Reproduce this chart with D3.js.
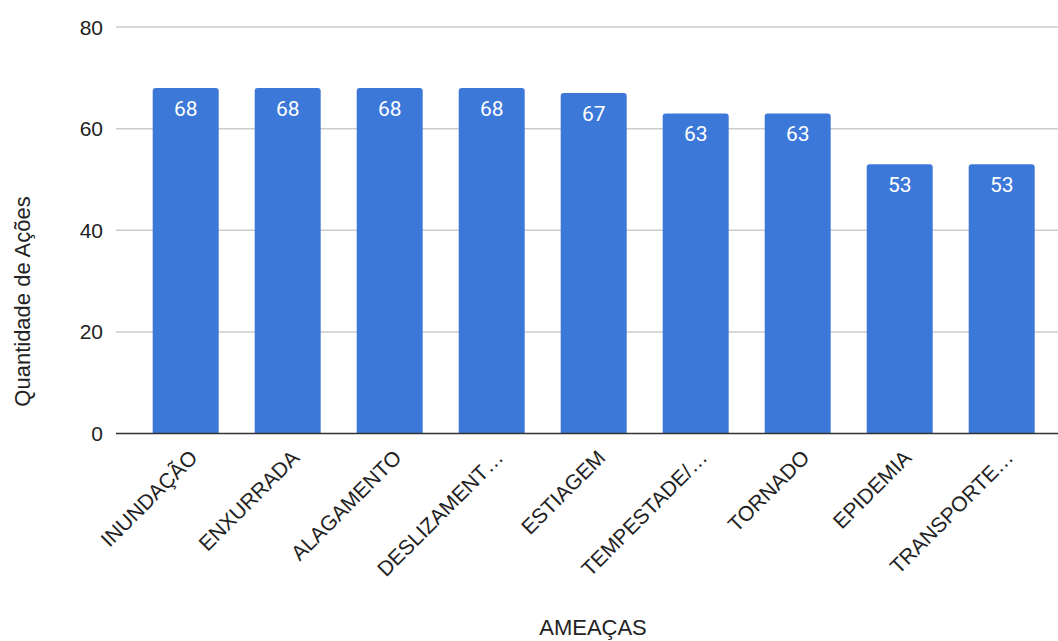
<!DOCTYPE html>
<html>
<head>
<meta charset="utf-8">
<script src="https://cdn.jsdelivr.net/npm/d3@7"></script>
<style>
  html, body { margin: 0; padding: 0; background: #fff; }
  svg { display: block; }
</style>
</head>
<body>
<svg id="chart" width="1058" height="641"></svg>
<script>
// Threat categories and number of actions for each
const categories = ["INUNDAÇÃO", "ENXURRADA", "ALAGAMENTO", "DESLIZAMENT…", "ESTIAGEM", "TEMPESTADE/…", "TORNADO", "EPIDEMIA", "TRANSPORTE…"];
const values = [68, 68, 68, 68, 67, 63, 63, 53, 53];
const yTicks = [0, 20, 40, 60, 80];
const xTitle = "AMEAÇAS";
const yTitle = "Quantidade de Ações";

const svg = d3.select("#chart");
const plotLeft = 116, plotRight = 1058;
const axisFont = "'Liberation Sans', Arial, sans-serif";

const x = d3.scaleBand()
  .domain(categories)
  .range([134.7, 1052.7])
  .paddingInner(0.353)
  .paddingOuter(0.1765);

const y = d3.scaleLinear()
  .domain([0, 80])
  .range([433.5, 27]);

// Horizontal gridlines
svg.append("g")
  .selectAll("line")
  .data(yTicks.filter(d => d !== 0))
  .join("line")
  .attr("x1", plotLeft)
  .attr("x2", plotRight)
  .attr("y1", d => y(d))
  .attr("y2", d => y(d))
  .attr("stroke", "#cccccc")
  .attr("stroke-width", 1.5);

// Y tick labels
svg.append("g")
  .selectAll("text")
  .data(yTicks)
  .join("text")
  .attr("x", 103)
  .attr("y", d => y(d))
  .attr("dy", "0.36em")
  .attr("text-anchor", "end")
  .attr("font-family", axisFont)
  .attr("font-size", 21)
  .attr("fill", "#222")
  .text(d => d);

// Bars with slightly rounded top corners
const r = 3;
function barPath(d, i) {
  const x0 = x(categories[i]);
  const x1 = x0 + x.bandwidth();
  const yt = y(d);
  const yb = y(0);
  return `M${x0},${yb} L${x0},${yt + r} Q${x0},${yt} ${x0 + r},${yt} L${x1 - r},${yt} Q${x1},${yt} ${x1},${yt + r} L${x1},${yb} Z`;
}

svg.append("g")
  .selectAll("path")
  .data(values)
  .join("path")
  .attr("d", (d, i) => barPath(d, i))
  .attr("fill", "#3c78d8");

// Value labels inside the bars
svg.append("g")
  .selectAll("text")
  .data(values)
  .join("text")
  .attr("x", (d, i) => x(categories[i]) + x.bandwidth() / 2)
  .attr("y", d => y(d) + 28)
  .attr("text-anchor", "middle")
  .attr("font-family", "Roboto, 'Liberation Sans', Arial, sans-serif")
  .attr("font-size", 21)
  .attr("fill", "#ffffff")
  .text(d => d);

// Baseline (zero axis)
svg.append("line")
  .attr("x1", plotLeft)
  .attr("x2", plotRight)
  .attr("y1", y(0))
  .attr("y2", y(0))
  .attr("stroke", "#333333")
  .attr("stroke-width", 1.5);

// Rotated category labels
svg.append("g")
  .selectAll("text")
  .data(categories)
  .join("text")
  .attr("transform", d => `translate(${x(d) + x.bandwidth() / 2 + 13},${459}) rotate(-45)`)
  .attr("text-anchor", "end")
  .attr("font-family", axisFont)
  .attr("font-size", 21)
  .attr("fill", "#222")
  .text(d => d);

// Axis titles
svg.append("text")
  .attr("x", 593)
  .attr("y", 635)
  .attr("text-anchor", "middle")
  .attr("font-family", axisFont)
  .attr("font-size", 22)
  .attr("fill", "#222")
  .text(xTitle);

svg.append("text")
  .attr("transform", "translate(30,301.5) rotate(-90)")
  .attr("text-anchor", "middle")
  .attr("font-family", axisFont)
  .attr("font-size", 22)
  .attr("fill", "#222")
  .text(yTitle);
</script>
</body>
</html>
